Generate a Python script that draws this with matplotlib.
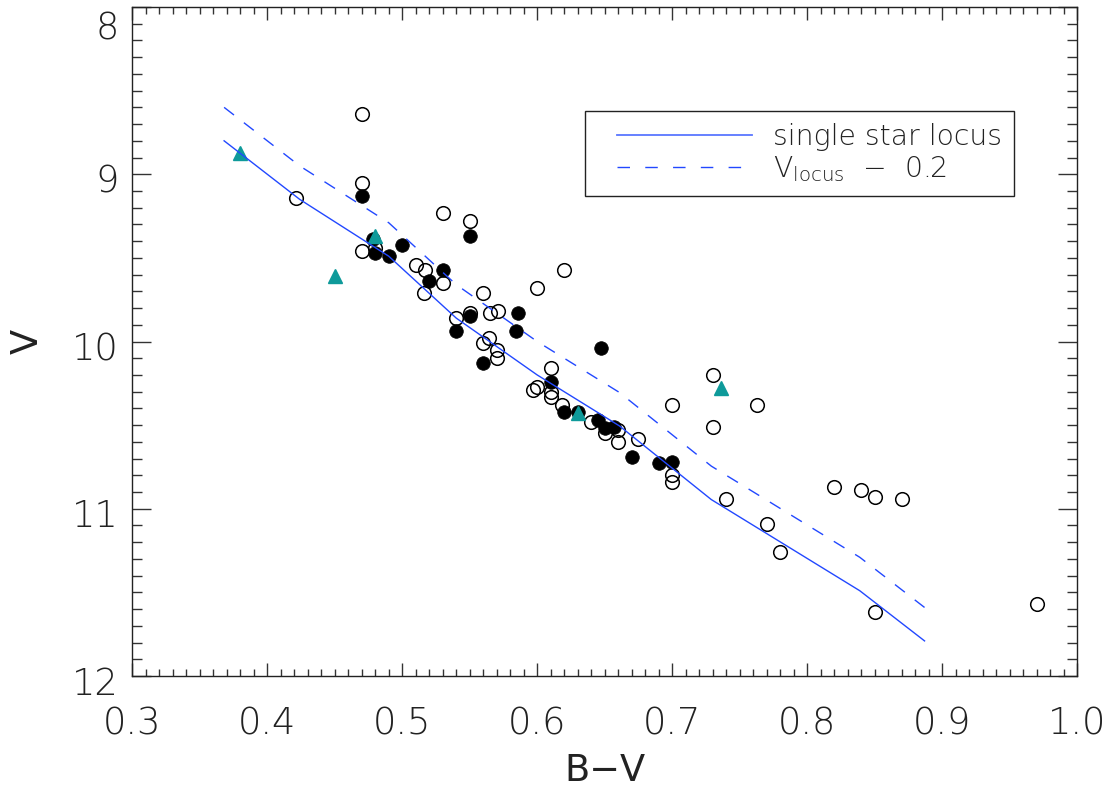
import matplotlib
matplotlib.use("Agg")
import matplotlib.pyplot as plt
import matplotlib.transforms as mtransforms
from matplotlib.lines import Line2D
from matplotlib.legend_handler import HandlerLine2D
from matplotlib.ticker import MultipleLocator

plt.rcParams['font.family'] = ['DejaVu Sans']
plt.rcParams['font.weight'] = 'light'
plt.rcParams['mathtext.default'] = 'regular'

# open circles
open_bv = [0.47, 0.47, 0.421, 0.53, 0.55, 0.47, 0.48, 0.51, 0.517, 0.53,
           0.516, 0.56, 0.62, 0.60, 0.54, 0.55, 0.565, 0.571, 0.564, 0.56,
           0.57, 0.57, 0.61, 0.60, 0.597, 0.61, 0.61, 0.618, 0.64, 0.65,
           0.66, 0.66, 0.675, 0.70, 0.70, 0.70, 0.73, 0.73, 0.763, 0.74,
           0.77, 0.78, 0.82, 0.84, 0.85, 0.87, 0.85, 0.97]
open_v = [8.64, 9.05, 9.14, 9.23, 9.28, 9.46, 9.44, 9.54, 9.57, 9.65,
          9.71, 9.71, 9.57, 9.68, 9.86, 9.83, 9.83, 9.82, 9.98, 10.01,
          10.05, 10.10, 10.16, 10.27, 10.29, 10.30, 10.33, 10.38, 10.48, 10.545,
          10.53, 10.60, 10.585, 10.80, 10.84, 10.38, 10.20, 10.51, 10.38, 10.94,
          11.09, 11.26, 10.87, 10.89, 10.93, 10.94, 11.62, 11.57]

# filled circles
filled_bv = [0.47, 0.55, 0.478, 0.50, 0.48, 0.49, 0.53, 0.52, 0.55, 0.586,
             0.54, 0.584, 0.56, 0.647, 0.61, 0.62, 0.63, 0.645, 0.65, 0.657,
             0.67, 0.69, 0.70]
filled_v = [9.13, 9.37, 9.39, 9.42, 9.47, 9.49, 9.57, 9.64, 9.85, 9.83,
            9.94, 9.94, 10.13, 10.04, 10.24, 10.42, 10.42, 10.47, 10.52, 10.51,
            10.69, 10.725, 10.72]

# triangles
tri_bv = [0.38, 0.48, 0.45, 0.63, 0.736]
tri_v = [8.87, 9.37, 9.61, 10.43, 10.28]

# single star locus
locus_bv = [0.368, 0.424, 0.490, 0.540, 0.600, 0.661, 0.729, 0.839, 0.887]
locus_v = [8.80, 9.15, 9.49, 9.86, 10.20, 10.505, 10.945, 11.49, 11.79]
locus_shift_v = [8.60, 8.95, 9.29, 9.66, 10.00, 10.305, 10.745, 11.29, 11.59]

blue = '#2248ff'
teal = '#0e9a9a'
ink = '#222222'

fig = plt.figure(figsize=(11.13, 7.88), dpi=100)
ax = fig.add_axes([0.1189, 0.1421, 0.8488, 0.849])

ax.plot(open_bv, open_v, 'o', ms=9.8, mfc='none', mec='black', mew=1.1, zorder=2)
ax.plot(filled_bv, filled_v, 'o', ms=9.8, mfc='black', mec='black', mew=0.5, zorder=3)
ax.plot(tri_bv, tri_v, '^', ms=10, color=teal, mec=teal, zorder=4)
ax.plot(locus_bv, locus_v, '-', color=blue, lw=1.0, zorder=5)
ax.plot(locus_bv, locus_shift_v, color=blue, lw=1.0, dashes=(9, 9), zorder=5)

ax.set_xlim(0.3, 1.0)
ax.set_ylim(12, 8)
ax.xaxis.set_major_locator(MultipleLocator(0.1))
ax.xaxis.set_minor_locator(MultipleLocator(0.01))
ax.yaxis.set_major_locator(MultipleLocator(1))
ax.yaxis.set_minor_locator(MultipleLocator(0.1))
ax.set_xticklabels([f"{v:.1f}" for v in ax.get_xticks()])

ax.tick_params(axis='both', which='both', direction='in', top=True, right=True,
               colors='#333333', width=1.0, labelsize=26.5, labelcolor=ink)
ax.tick_params(axis='x', which='major', length=9.5, pad=21)
ax.tick_params(axis='x', which='minor', length=5.3)
ax.tick_params(axis='y', which='major', length=13.7, pad=10)
ax.tick_params(axis='y', which='minor', length=7.2)
for s in ax.spines.values():
    s.set_linewidth(1.0)
    s.set_color(ink)

# y labels sit a little below their ticks, the top one more so
for lab in ax.get_yticklabels():
    dy = -13 / 72 if lab.get_text() == '8' else -3 / 72
    lab.set_transform(lab.get_transform() +
                      mtransforms.ScaledTranslation(0, dy, fig.dpi_scale_trans))

ax.set_xlabel('B\u2212V', fontsize=26.5, color=ink, labelpad=8)
ax.set_ylabel('V', fontsize=26.5, color=ink, labelpad=19)

handles = [Line2D([], [], color=blue, lw=1.3, alpha=0.75),
           Line2D([], [], color=blue, lw=1.0, dashes=(9, 11))]
labels = ['single star locus', r'V$_{locus}$  $-$  0.2']
leg = ax.legend(handles, labels, loc='upper left', bbox_to_anchor=(0.4792, 0.845),
                borderaxespad=0, fontsize=20.3, handlelength=5.5,
                handletextpad=0.74, borderpad=0.43, labelspacing=0.12,
                fancybox=False, edgecolor=ink, framealpha=1,
                handler_map={Line2D: HandlerLine2D(xpad=0.71)})
leg.get_frame().set_linewidth(1.0)
for t in leg.get_texts():
    t.set_color(ink)

fig.savefig('out.png', dpi=100)
